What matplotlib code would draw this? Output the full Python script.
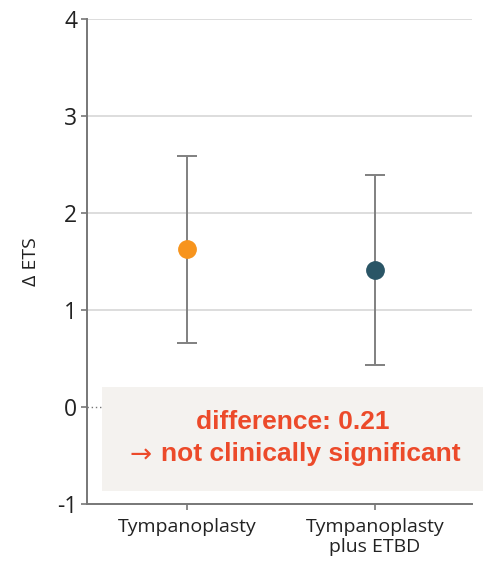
import matplotlib
matplotlib.use('Agg')
import matplotlib.pyplot as plt
from matplotlib.patches import Rectangle
from matplotlib.text import Annotation

# Data
groups = ['Tympanoplasty', 'Tympanoplasty\nplus ETBD']
means = [1.63, 1.41]
ci_low = [0.66, 0.43]
ci_high = [2.59, 2.39]
colors = ['#F7941D', '#2A5566']
y_ticks = [-1, 0, 1, 2, 3, 4]
note_lines = ['difference: 0.21', 'not clinically significant']

plt.rcParams['font.family'] = ['Open Sans', 'DejaVu Sans']

fig = plt.figure(figsize=(4.85, 5.68), dpi=100)
ax = fig.add_axes([87 / 485, 1 - 504 / 568, 385 / 485, 485 / 568])

# Grid lines
for yv in y_ticks[2:]:
    ax.axhline(yv, color='#dddddd', lw=1.4, zorder=0)
ax.axhline(0, color='#777777', lw=1.0, ls=(0, (1, 2)), zorder=0)

# Error bars and points
xs = list(range(len(groups)))
for x, m, lo, hi, c in zip(xs, means, ci_low, ci_high, colors):
    ax.errorbar(x, m, yerr=[[m - lo], [hi - m]], fmt='none', ecolor='#808080',
                elinewidth=1.4, capsize=7.5, capthick=1.4, zorder=2)
    ax.plot(x, m, 'o', color=c, markersize=12.5, zorder=3)

ax.set_xlim(-0.53, 1.515)
ax.set_ylim(-1, 4)
ax.set_xticks(xs)
ax.set_xticklabels(groups, fontsize=14, color='#222222', linespacing=1.15)
ax.set_yticks(y_ticks)
ax.set_yticklabels([str(v) for v in y_ticks], fontsize=16.5, color='#222222')
ax.set_ylabel('\u0394 ETS', fontsize=14, color='#222222', labelpad=12)

for side in ['top', 'right']:
    ax.spines[side].set_visible(False)
for side in ['left', 'bottom']:
    ax.spines[side].set_color('#777777')
    ax.spines[side].set_linewidth(1.4)
ax.tick_params(axis='both', direction='out', length=4, width=1.2, color='#777777')
ax.tick_params(axis='x', pad=6)
ax.tick_params(axis='y', pad=3)

# Annotation box
box = Rectangle((102 / 485, 1 - 491 / 568), 381 / 485, 104 / 568,
                transform=fig.transFigure, facecolor='#F4F2EF', edgecolor='none', zorder=5)
fig.patches.append(box)
note_font = dict(fontsize=19, fontweight='bold', color='#EC4A2A',
                 family=['Liberation Sans', 'DejaVu Sans'], zorder=6)
fig.text(293 / 485, 1 - 422 / 568, note_lines[0], ha='center', va='center', **note_font)
line2 = fig.text(311 / 485, 1 - 454 / 568, note_lines[1], ha='center', va='center', **note_font)
arrow = Annotation('\u2192', xy=(0, 0.5), xycoords=line2, xytext=(-7, -1),
                   textcoords='offset points', ha='right', va='center',
                   fontsize=19, color='#EC4A2A', family='DejaVu Sans',
                   annotation_clip=False)
arrow.set_zorder(6)
fig.add_artist(arrow)

fig.savefig('out.png', dpi=100)
